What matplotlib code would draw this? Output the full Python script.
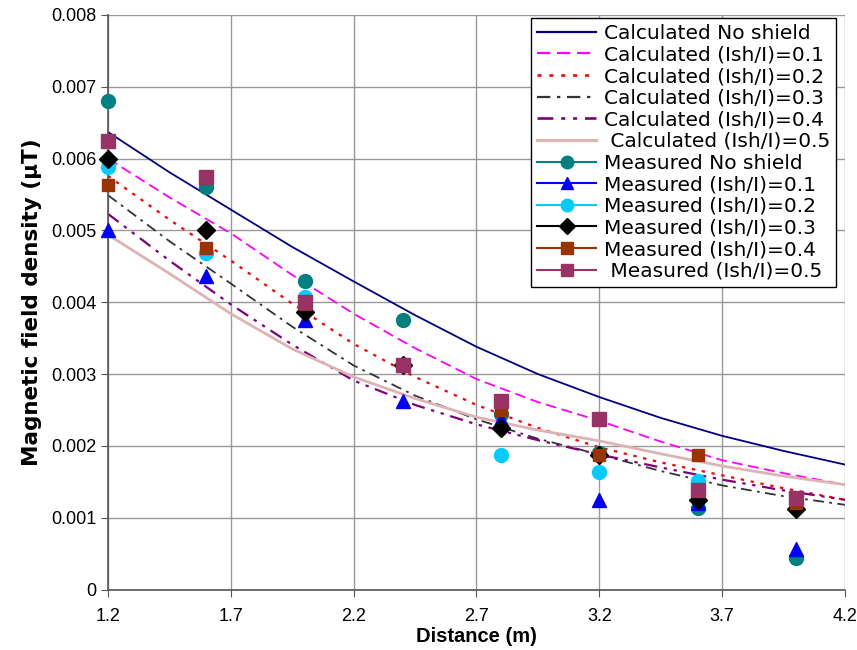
import matplotlib
matplotlib.use("Agg")
import matplotlib.pyplot as plt
from matplotlib.lines import Line2D
from matplotlib.ticker import FuncFormatter, MultipleLocator

plt.rcParams["font.family"] = ["Liberation Sans", "DejaVu Sans"]

# calculated curves (read at 0.25 m steps)
calc_x = [1.2, 1.45, 1.7, 1.95, 2.2, 2.45, 2.7, 2.95, 3.2, 3.45, 3.7, 3.95, 4.2]
calc_none = [6.37, 5.81, 5.29, 4.77, 4.29, 3.82, 3.38, 3.00, 2.68, 2.39, 2.14, 1.93, 1.74]
calc_01 = [6.00, 5.46, 4.96, 4.38, 3.84, 3.36, 2.93, 2.61, 2.35, 2.06, 1.80, 1.62, 1.46]
calc_02 = [5.76, 5.15, 4.58, 3.98, 3.42, 2.96, 2.57, 2.25, 1.98, 1.77, 1.59, 1.41, 1.25]
calc_03 = [5.49, 4.85, 4.26, 3.66, 3.12, 2.70, 2.37, 2.10, 1.88, 1.65, 1.45, 1.30, 1.18]
calc_04 = [5.23, 4.58, 3.97, 3.41, 2.91, 2.57, 2.30, 2.08, 1.88, 1.70, 1.53, 1.38, 1.25]
calc_05 = [4.94, 4.40, 3.84, 3.35, 2.96, 2.66, 2.40, 2.22, 2.07, 1.89, 1.72, 1.58, 1.46]

# measured points
meas_x = [1.2, 1.6, 2.0, 2.4, 2.8, 3.2, 3.6, 4.0]
meas_none = [6.80, 5.60, 4.30, 3.75, 2.45, 1.90, 1.13, 0.44]
meas_01 = [5.00, 4.37, 3.75, 2.62, 2.38, 1.25, 1.20, 0.57]
meas_02 = [5.88, 4.69, 4.07, 3.12, 1.88, 1.63, 1.51, 1.20]
meas_03 = [6.00, 5.00, 3.87, 3.12, 2.25, 1.88, 1.24, 1.12]
meas_04 = [5.63, 4.75, 3.97, 3.12, 2.50, 1.88, 1.88, 1.20]
meas_05 = [6.25, 5.75, 4.00, 3.12, 2.63, 2.38, 1.38, 1.27]

x_ticks = [1.2, 1.7, 2.2, 2.7, 3.2, 3.7, 4.2]

calc_series = [
    ("Calculated No shield", calc_none, "#000080", "-", 1.3),
    ("Calculated (Ish/I)=0.1", calc_01, "#ff00ff", (0, (6, 3)), 1.3),
    ("Calculated (Ish/I)=0.2", calc_02, "#ff0000", (0, (1.5, 3)), 1.6),
    ("Calculated (Ish/I)=0.3", calc_03, "#333333", (0, (6, 3, 1.5, 3)), 1.3),
    ("Calculated (Ish/I)=0.4", calc_04, "#800080", (0, (6, 3, 1.5, 3, 1.5, 3)), 1.6),
    (" Calculated (Ish/I)=0.5", calc_05, "#ddb3b3", "-", 2.0),
]
meas_series = [
    ("Measured No shield", meas_none, "#008080", "o", 10),
    ("Measured (Ish/I)=0.1", meas_01, "#0000ff", "^", 10),
    ("Measured (Ish/I)=0.2", meas_02, "#00ccff", "o", 10),
    ("Measured (Ish/I)=0.3", meas_03, "#000000", "D", 9),
    ("Measured (Ish/I)=0.4", meas_04, "#993300", "s", 9),
    (" Measured (Ish/I)=0.5", meas_05, "#993366", "s", 9.5),
]

fig = plt.figure(figsize=(8.57, 6.5), dpi=100)
ax = fig.add_axes([0.126, 0.093, 0.860, 0.884])

handles = []
for label, vals, color, ls, lw in calc_series:
    y = [v / 1000 for v in vals]
    ax.plot(calc_x, y, color=color, linestyle=ls, linewidth=lw, zorder=2)
    handles.append(Line2D([0], [0], color=color, linestyle=ls, linewidth=lw + 0.3, label=label))

for label, vals, color, mk, ms in meas_series:
    y = [v / 1000 for v in vals]
    ax.plot(meas_x, y, linestyle="none", marker=mk, markersize=ms, color=color,
            markeredgecolor=color, zorder=3, clip_on=False)
    handles.append(Line2D([0], [0], color=color, marker=mk, markersize=ms - 1,
                          linewidth=1.5, label=label))

ax.set_xlim(1.2, 4.2)
ax.set_ylim(0, 0.008)
ax.set_xticks(x_ticks)
ax.yaxis.set_major_locator(MultipleLocator(0.001))
ax.xaxis.set_major_formatter(FuncFormatter(lambda v, _: f"{v:.1f}"))
ax.yaxis.set_major_formatter(FuncFormatter(lambda v, _: "0" if abs(v) < 1e-9 else f"{v:.3f}"))
ax.grid(True, color="#999999", linewidth=1.0)
ax.set_axisbelow(True)
for side in ["top", "right"]:
    ax.spines[side].set_visible(False)
for side in ["left", "bottom"]:
    ax.spines[side].set_color("#555555")
    ax.spines[side].set_linewidth(1.2)
ax.tick_params(labelsize=13, length=5, color="#555555")
ax.tick_params(axis="x", pad=8)

ax.set_xlabel("Distance (m)", fontsize=14.5, fontweight="bold", labelpad=2)
ax.set_ylabel("Magnetic field density (\u00b5T)", fontsize=15.5, fontweight="bold",
              family="DejaVu Sans", labelpad=6)

leg = ax.legend(handles=handles, loc="upper right", bbox_to_anchor=(0.988, 0.995),
                prop={"family": "DejaVu Sans", "size": 14.5}, frameon=True, fancybox=False,
                edgecolor="black", framealpha=1, labelspacing=0.13, handlelength=2.9,
                handletextpad=0.4, borderpad=0.3, borderaxespad=0)
leg.get_frame().set_linewidth(1.0)

fig.savefig("out.png", dpi=100)
